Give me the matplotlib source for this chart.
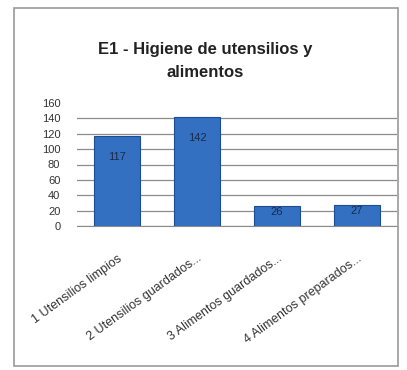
import matplotlib.pyplot as plt
from matplotlib.patches import Rectangle

# datos
categorias = ['1 Utensilios limpios', '2 Utensilios guardados...',
              '3 Alimentos guardados...', '4 Alimentos preparados...']
valores = [117, 142, 26, 27]
yticks = [0, 20, 40, 60, 80, 100, 120, 140, 160]
titulo = 'E1 - Higiene de utensilios y\nalimentos'

plt.rcParams['font.family'] = ['Liberation Sans', 'DejaVu Sans']

fig = plt.figure(figsize=(4.07, 3.70), dpi=100)
fig.patch.set_facecolor('white')

# marco exterior del grafico
fig.patches.append(Rectangle((14 / 407, 1 - 366 / 370), 384 / 407, 358 / 370,
                             transform=fig.transFigure, fill=False,
                             edgecolor='#9a9a9a', linewidth=1.2))

ax = fig.add_axes([77 / 407, 1 - 226 / 370, 320 / 407, 123 / 370])

x = list(range(len(categorias)))
barras = ax.bar(x, valores, width=0.57, color='#3470C2', edgecolor='#1D4C94',
                linewidth=0.8, zorder=3)

# etiquetas de datos dentro del extremo de la barra
for xi, v in zip(x, valores):
    desp = -15 if v > 60 else -4
    ax.annotate(str(v), (xi, v), xytext=(0, desp), textcoords='offset points',
                ha='center', va='center', fontsize=8, color='#1a2a4a', zorder=4)

ax.set_xlim(-0.5, len(categorias) - 0.5)
ax.set_ylim(0, 160)
ax.set_yticks(yticks)
ax.set_yticklabels([str(v) for v in yticks], fontsize=8, color='#333333')
ax.yaxis.grid(True, color='#8c8c8c', linewidth=0.9, zorder=0)
ax.get_ygridlines()[-1].set_visible(False)
ax.set_xticks(x)
ax.set_xticklabels(categorias, rotation=36, ha='right', rotation_mode='anchor',
                   fontsize=9, color='#333333')
ax.tick_params(axis='x', length=0, pad=19)
ax.tick_params(axis='y', length=0, pad=12)
for s in ['top', 'right', 'left']:
    ax.spines[s].set_visible(False)
ax.spines['bottom'].set_color('#8c8c8c')

fig.text(0.505, 1 - 61 / 370, titulo, ha='center', va='center',
         fontsize=12, fontweight='bold', color='#222222', linespacing=1.6)

fig.savefig('out.png', dpi=100)
